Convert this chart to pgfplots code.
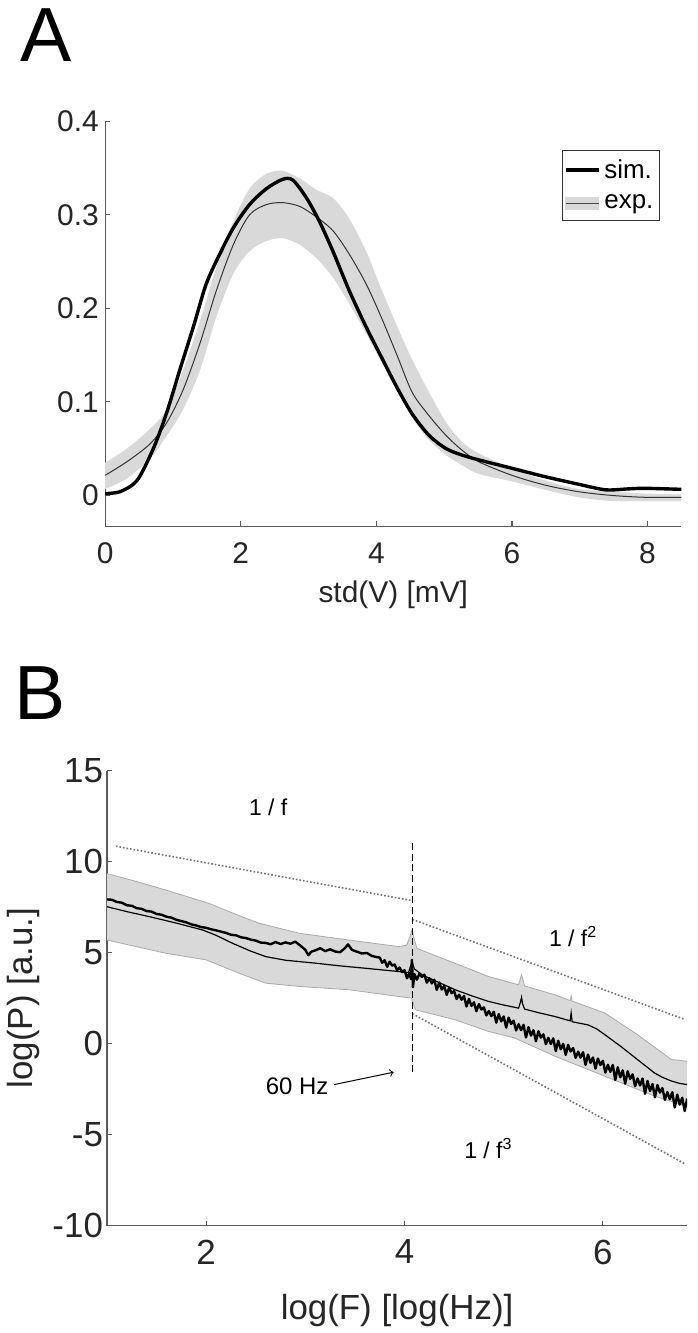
\documentclass[border=0pt]{standalone}
\usepackage{fontspec}
\setmainfont{Liberation Sans}
\usepackage{pgfplots}
\pgfplotsset{compat=1.18}
\usepgfplotslibrary{fillbetween}
\definecolor{bandfill}{RGB}{217,217,217}
\definecolor{bandedge}{RGB}{170,170,170}
\definecolor{axcol}{RGB}{90,90,90}
\definecolor{dotcol}{RGB}{115,115,115}
\begin{document}
\begin{tikzpicture}
\path (0,0) rectangle (350pt,666.5pt);
\node[anchor=base west, inner sep=0pt, font=\fontsize{38.5}{40}\selectfont] at (10.3pt,635.6pt) {A};
\node[anchor=base west, inner sep=0pt, font=\fontsize{38.5}{40}\selectfont] at (7pt,305.5pt) {B};

% ---------------- Panel A ----------------
\begin{axis}[
  scale only axis, width=289pt, height=203.3pt,
  at={(52.75pt,402.35pt)}, anchor=south west,
  xmin=0, xmax=8.5, ymin=-0.0334, ymax=0.4,
  axis x line*=bottom, axis y line*=left,
  axis line style={axcol, line width=0.6pt},
  tick style={axcol, line width=0.6pt}, major tick length=2.6pt,
  xtick={0,2,4,6,8}, xticklabels={0,2,4,6,8},
  ytick={0,0.1,0.2,0.3,0.4}, yticklabels={0,0.1,0.2,0.3,0.4},
  tick label style={font=\fontsize{15}{17}\selectfont, text=black!85},
  xticklabel style={yshift=-4.6pt},
  yticklabel style={xshift=0.3pt},
  xlabel={std(V) [mV]},
  xlabel style={font=\fontsize{15}{17}\selectfont, text=black!85, at={(axis description cs:0.5,-0.1862)}, anchor=base},
  clip mode=individual,
  legend style={at={(axis description cs:0.792,0.930)}, anchor=north west, draw=black!80, line width=0.6pt,
    font=\fontsize{13}{15}\selectfont, inner xsep=1pt, inner ysep=2.5pt, row sep=3pt, cells={anchor=west}},
]
\addlegendimage{black, line width=1.7pt, legend image code/.code={\draw (0pt,0pt) -- (16.5pt,0pt);}}
\addlegendentry{sim.}
\addlegendimage{legend image code/.code={\fill[bandfill] (0pt,-3pt) rectangle (16.5pt,3pt); \draw[black!70, line width=0.4pt] (0pt,0pt) -- (16.5pt,0pt);}}
\addlegendentry{exp.}

\addplot[name path=Aup, draw=none, smooth, forget plot] coordinates {
(0,0.035) (0.32,0.050) (0.66,0.071) (0.91,0.092) (1.15,0.134) (1.40,0.187) (1.64,0.244) (1.89,0.293)
(2.13,0.328) (2.38,0.344) (2.62,0.347) (2.87,0.339) (3.11,0.327) (3.36,0.318) (3.60,0.296) (3.85,0.261)
(4.05,0.225) (4.30,0.182) (4.53,0.145) (4.78,0.110) (5.03,0.078) (5.27,0.057) (5.51,0.045) (6.0,0.029)
(6.49,0.016) (6.98,0.007) (7.47,0.004) (7.96,0.002) (8.5,0.001)};
\addplot[name path=Alo, draw=none, smooth, forget plot] coordinates {
(0,0.007) (0.32,0.018) (0.66,0.039) (0.91,0.064) (1.15,0.092) (1.40,0.134) (1.64,0.191) (1.89,0.237)
(2.13,0.261) (2.38,0.272) (2.62,0.275) (2.87,0.268) (3.11,0.254) (3.36,0.233) (3.60,0.205) (3.85,0.173)
(4.06,0.145) (4.30,0.114) (4.53,0.083) (4.78,0.059) (5.03,0.043) (5.27,0.032) (5.51,0.023) (6.0,0.015)
(6.49,0.006) (6.98,-0.002) (7.47,-0.006) (7.96,-0.006) (8.5,-0.006)};
\addplot[bandfill, forget plot] fill between[of=Aup and Alo];

\addplot[black!80, line width=0.5pt, smooth, forget plot] coordinates {
(0,0.0215) (0.32,0.036) (0.66,0.055) (0.91,0.078) (1.15,0.113) (1.40,0.163) (1.64,0.219) (1.89,0.268)
(2.13,0.300) (2.38,0.311) (2.62,0.313) (2.87,0.309) (3.11,0.298) (3.36,0.283) (3.60,0.258) (3.85,0.226)
(4.07,0.191) (4.31,0.149) (4.53,0.110) (4.78,0.085) (5.03,0.064) (5.27,0.048) (5.51,0.036) (6.0,0.0215)
(6.49,0.011) (6.98,0.004) (7.47,0.0) (7.96,-0.002) (8.5,-0.002)};

\addplot[black, line width=1.7pt, smooth, forget plot] coordinates {
(0,0.002) (0.22,0.004) (0.47,0.016) (0.71,0.050) (0.91,0.089) (1.10,0.134) (1.30,0.180) (1.49,0.226)
(1.69,0.258) (1.89,0.286) (2.13,0.311) (2.38,0.328) (2.62,0.338) (2.77,0.337) (2.97,0.318) (3.16,0.293)
(3.36,0.261) (3.60,0.219) (3.85,0.180) (4.06,0.150) (4.30,0.116) (4.53,0.087) (4.78,0.064) (5.03,0.050)
(5.27,0.043) (5.51,0.038) (6.0,0.029) (6.49,0.020) (6.98,0.012) (7.38,0.006) (7.72,0.007) (7.96,0.0076) (8.5,0.0065)};
\end{axis}

% ---------------- Panel B ----------------
\begin{axis}[
  scale only axis, width=291pt, height=228.3pt,
  at={(53.65pt,51.75pt)}, anchor=south west,
  xmin=1, xmax=6.85, ymin=-10, ymax=15,
  axis x line*=bottom, axis y line*=left,
  axis line style={axcol, line width=0.6pt},
  tick style={axcol, line width=0.6pt}, major tick length=2.6pt,
  xtick={2,4,6}, xticklabels={2,4,6},
  ytick={-10,-5,0,5,10,15}, yticklabels={-10,-5,0,5,10,15},
  tick label style={font=\fontsize{17.5}{19}\selectfont, text=black!85},
  xticklabel style={yshift=-3.6pt},
  yticklabel style={xshift=1.5pt},
  xlabel={log(F) [log(Hz)]},
  xlabel style={font=\fontsize{17.5}{20}\selectfont, text=black!85, at={(axis description cs:0.5,-0.2052)}, anchor=base},
  ylabel={log(P) [a.u.]},
  ylabel style={font=\fontsize{17.5}{20}\selectfont, text=black!85, at={(axis description cs:-0.1287,0.5)}, anchor=base},
  clip mode=individual,
]
\addplot[name path=Bup, bandedge, line width=0.4pt, forget plot] coordinates {
(1.0,9.34) (1.3,8.9) (1.597,8.43) (2.03,7.70) (2.3,7.1) (2.535,6.61) (2.94,6.06) (3.44,5.69) (3.94,5.33)
(4.02,5.40) (4.05,5.8) (4.075,6.24) (4.10,5.7) (4.126,5.23) (4.51,4.41) (4.846,3.69) (5.15,3.23)
(5.17,3.6) (5.18,3.78) (5.19,3.6) (5.21,3.17) (5.516,2.68) (5.67,2.36) (5.68,2.62) (5.69,2.34)
(6.02,1.68) (6.35,0.49) (6.69,-0.87) (6.85,-0.97)};
\addplot[name path=Blo, bandedge, line width=0.4pt, forget plot] coordinates {
(1.0,5.69) (1.597,4.96) (2.0,4.6) (2.33,3.87) (2.60,3.32) (2.94,3.14) (3.44,2.96) (3.94,2.59) (4.07,2.5)
(4.11,1.86) (4.51,1.31) (4.846,0.67) (5.11,0.31) (5.516,-0.69) (6.02,-1.79) (6.52,-2.88) (6.85,-3.45)};
\addplot[bandfill, forget plot] fill between[of=Bup and Blo];

% dotted power-law guides
\addplot[dotcol, line width=0.8pt, dash pattern=on 0.8pt off 1.0pt, forget plot] coordinates {(1.09,10.84) (4.07,7.86)};
\addplot[dotcol, line width=0.8pt, dash pattern=on 0.8pt off 1.0pt, forget plot] coordinates {(4.08,6.82) (6.83,1.32)};
\addplot[dotcol, line width=0.8pt, dash pattern=on 0.8pt off 1.0pt, forget plot] coordinates {(4.08,1.64) (6.83,-6.61)};

% experimental mean
\addplot[black, line width=0.6pt, forget plot] coordinates {
(1.0,7.52) (1.2,7.25) (1.43,6.97) (1.7,6.62) (1.965,6.24) (2.1,5.95) (2.266,5.51) (2.45,5.08) (2.60,4.78)
(2.8,4.58) (3.10,4.42) (3.35,4.27) (3.605,4.14) (3.94,3.96)
(4.04,3.90) (4.075,4.5) (4.10,4.1) (4.18,3.77) (4.35,3.35) (4.51,2.96) (4.68,2.62) (4.846,2.32) (5.0,2.12) (5.15,1.95) (5.17,2.3) (5.18,2.55)
(5.19,2.2) (5.21,1.9) (5.35,1.7) (5.516,1.49) (5.67,1.25) (5.68,1.68) (5.69,1.2) (5.85,1.03) (5.94,0.8) (6.02,0.49) (6.1,0.17) (6.18,-0.15)
(6.35,-0.88) (6.52,-1.61) (6.60,-1.85) (6.69,-2.05) (6.77,-2.18) (6.85,-2.25)};

% simulation
\addplot[black, line width=1.2pt, line join=round, forget plot] coordinates {
(1.00,7.92) (1.05,7.90) (1.10,7.78) (1.15,7.74) (1.20,7.60) (1.25,7.57) (1.30,7.44) (1.35,7.40)
(1.40,7.28) (1.45,7.25) (1.50,7.12) (1.55,7.08) (1.60,6.97) (1.65,6.92) (1.70,6.80) (1.75,6.73)
(1.80,6.66) (1.85,6.55) (1.90,6.49) (1.95,6.40) (2.00,6.36) (2.05,6.28) (2.10,6.22) (2.15,6.15)
(2.20,6.08) (2.25,5.98) (2.30,5.95) (2.35,5.84) (2.40,5.80) (2.45,5.71) (2.50,5.66) (2.55,5.55)
(2.60,5.53) (2.65,5.46) (2.70,5.58) (2.75,5.47) (2.80,5.56) (2.85,5.49) (2.90,5.60) (2.95,5.38)
(3.00,5.15) (3.03,4.85) (3.06,5.05) (3.10,5.12) (3.15,5.24) (3.20,5.08) (3.25,5.18) (3.30,5.06)
(3.35,5.02) (3.40,5.25) (3.43,5.45) (3.47,5.15) (3.52,5.05) (3.57,4.95) (3.62,4.98) (3.67,4.82)
(3.72,4.75)
(3.750,4.73) (3.775,4.44) (3.800,4.58) (3.825,4.22) (3.850,4.50) (3.875,4.28) (3.900,4.35) (3.925,4.03)
(3.950,4.18) (3.975,3.93) (4.000,4.03) (4.025,3.59) (4.050,3.87) (4.065,3.55) (4.075,4.60) (4.085,3.10)
(4.100,3.82) (4.125,3.51) (4.150,3.84) (4.175,3.67) (4.200,3.79) (4.225,3.35) (4.250,3.59) (4.275,3.31)
(4.300,3.51) (4.325,2.95) (4.350,3.36) (4.375,2.97) (4.400,3.17) (4.425,2.68) (4.450,3.07) (4.475,2.77)
(4.500,2.89) (4.525,2.45) (4.550,2.69) (4.575,2.41) (4.600,2.61) (4.625,2.04) (4.650,2.46) (4.675,2.07)
(4.700,2.27) (4.725,1.78) (4.750,2.17) (4.775,1.87) (4.800,1.99) (4.825,1.55) (4.850,1.79) (4.875,1.51)
(4.900,1.75) (4.925,1.15) (4.950,1.62) (4.975,1.22) (5.000,1.49) (5.025,0.88) (5.050,1.43) (5.075,1.08)
(5.100,1.26) (5.125,0.72) (5.150,1.07) (5.175,0.74) (5.200,1.03) (5.225,0.34) (5.250,0.91) (5.275,0.44)
(5.300,0.74) (5.325,0.13) (5.350,0.68) (5.375,0.33) (5.400,0.51) (5.425,-0.03) (5.450,0.32) (5.475,-0.02)
(5.500,0.29) (5.525,-0.41) (5.550,0.16) (5.575,-0.31) (5.600,-0.01) (5.625,-0.62) (5.650,-0.07) (5.675,-0.43)
(5.700,-0.24) (5.725,-0.78) (5.750,-0.44) (5.775,-0.77) (5.800,-0.47) (5.825,-1.17) (5.850,-0.60) (5.875,-1.06)
(5.900,-0.76) (5.925,-1.37) (5.950,-0.82) (5.975,-1.18) (6.000,-0.94) (6.025,-1.59) (6.050,-1.16) (6.075,-1.55)
(6.100,-1.17) (6.125,-2.00) (6.150,-1.30) (6.175,-1.85) (6.200,-1.47) (6.225,-2.20) (6.250,-1.52) (6.275,-1.94)
(6.300,-1.69) (6.325,-2.34) (6.350,-1.91) (6.375,-2.30) (6.400,-1.92) (6.425,-2.76) (6.450,-2.05) (6.475,-2.60)
(6.500,-2.22) (6.525,-2.95) (6.550,-2.27) (6.575,-2.69) (6.600,-2.44) (6.625,-3.09) (6.650,-2.66) (6.675,-3.05)
(6.700,-2.67) (6.725,-3.51) (6.750,-2.80) (6.775,-3.35) (6.800,-2.97) (6.825,-3.70) (6.850,-3.02)};

% 60 Hz marker
\addplot[black, line width=0.6pt, dash pattern=on 3.5pt off 1.8pt, forget plot] coordinates {(4.08,11.0) (4.08,-1.6)};
\draw[black, line width=0.5pt, ->] (axis cs:3.29,-2.25) -- (axis cs:3.89,-1.57);

\node[font=\fontsize{11.5}{13}\selectfont] at (axis cs:2.625,12.96) {1 / f};
\node[font=\fontsize{11.5}{13}\selectfont] at (axis cs:5.70,5.9) {1 / f\textsuperscript{2}};
\node[font=\fontsize{11.5}{13}\selectfont] at (axis cs:4.846,-5.75) {1 / f\textsuperscript{3}};
\node[font=\fontsize{12}{14}\selectfont] at (axis cs:2.917,-2.34) {60 Hz};
\end{axis}
\end{tikzpicture}
\end{document}
